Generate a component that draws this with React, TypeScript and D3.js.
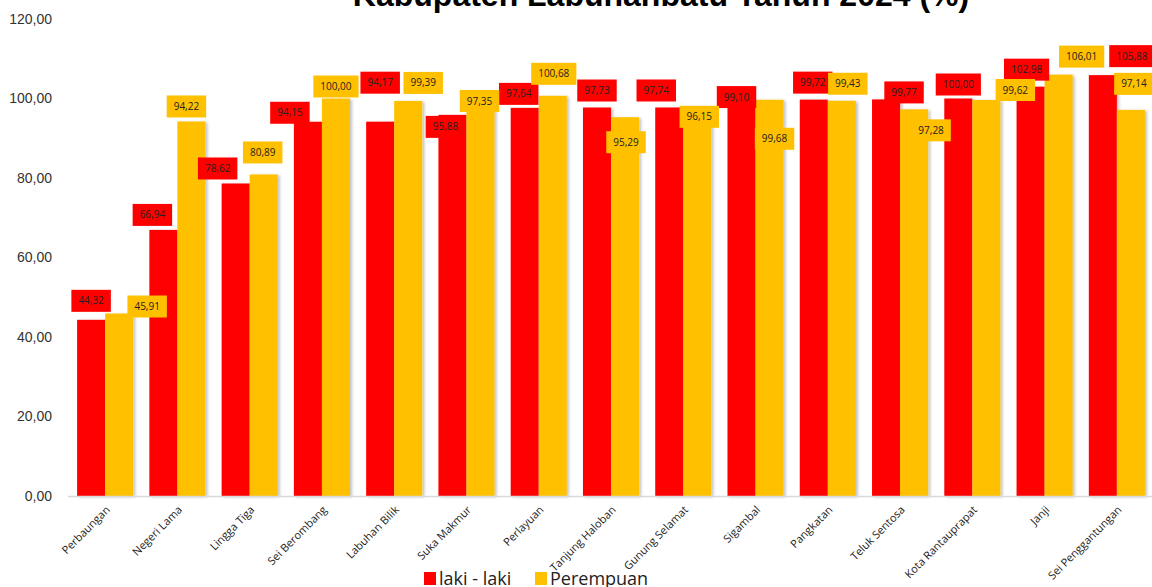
import React, { useEffect, useRef } from 'react';
import * as d3 from 'd3';

const categories = [
  'Perbaungan', 'Negeri Lama', 'Lingga Tiga', 'Sei Berombang', 'Labuhan Bilik',
  'Suka Makmur', 'Perlayuan', 'Tanjung Haloban', 'Gunung Selamat', 'Sigambal',
  'Pangkatan', 'Teluk Sentosa', 'Kota Rantauprapat', 'Janji', 'Sei Penggantungan',
];
const lakiLaki = [44.32, 66.94, 78.62, 94.15, 94.17, 95.88, 97.64, 97.73, 97.74, 99.1, 99.72, 99.77, 100.0, 102.98, 105.88];
const perempuan = [45.91, 94.22, 80.89, 100.0, 99.39, 97.35, 100.68, 95.29, 96.15, 99.68, 99.43, 97.28, 99.62, 106.01, 97.14];
const seriesNames = ['laki - laki', 'Perempuan'];
const yTicks = [0, 20, 40, 60, 80, 100, 120];
const title = 'Kabupaten Labuhanbatu Tahun 2024 (%)';

// hand-placed data label nudges (as in the source sheet), relative to bar top / centre
const lakiLabelNudge = [[0, -19], [-11, -15], [-18, -15], [-18, -9], [0, -39], [-7, 12], [-6, -14], [0, -17], [-13, -17], [-5, -5], [-1, -17], [18, -7], [0, -14], [-4, -17], [29, -19]];
const perempuanLabelNudge = [[28, -7], [-5, -15], [-1, -22], [0, -12], [15, -18], [-1, -8], [1, -22], [1, 25], [2, 3], [5, 39], [6, -17], [17, 21], [29, -10], [23, -18], [3, -26]];

const colors = ['#ff0000', '#ffc000'];
const W = 1152;
const H = 587;

export default function App() {
  const ref = useRef<SVGSVGElement>(null);

  useEffect(() => {
    const svg = d3.select(ref.current);
    svg.selectAll('*').remove();

    const x = d3.scaleBand().domain(categories).range([69, 1153]).paddingInner(0.224).paddingOuter(0.112);
    const xs = d3.scaleBand().domain(seriesNames).range([0, x.bandwidth()]);
    const y = d3.scaleLinear().domain([0, 120]).range([496, 19]);
    const fmt = (v) => d3.format('.2f')(v).replace('.', ',');

    const defs = svg.append('defs');
    defs.append('filter').attr('id', 'shadow').attr('x', '-20%').attr('y', '-5%').attr('width', '150%').attr('height', '110%')
      .append('feDropShadow').attr('dx', 2).attr('dy', 1).attr('stdDeviation', 1.5)
      .attr('flood-color', '#000').attr('flood-opacity', 0.25);

    // title (first line falls outside the frame)
    svg.append('text').attr('x', 661).attr('y', 6).attr('text-anchor', 'middle')
      .attr('font-family', 'Liberation Sans, Arial, sans-serif').attr('font-weight', 'bold')
      .attr('font-size', 32).attr('fill', '#000').text(title);

    // y axis labels
    svg.append('g').selectAll('text').data(yTicks).enter().append('text')
      .attr('x', 52).attr('y', (d) => y(d)).attr('dy', '0.35em').attr('text-anchor', 'end')
      .attr('font-family', 'Liberation Sans Narrow, Arial Narrow, sans-serif').attr('font-size', 14)
      .attr('fill', '#333').text((d) => fmt(d));

    const all = [lakiLaki, perempuan];
    all.forEach((vals, s) => {
      svg.append('g').attr('filter', 'url(#shadow)').selectAll('rect').data(vals).enter().append('rect')
        .attr('x', (d, i) => x(categories[i]) + xs(seriesNames[s]))
        .attr('y', (d) => y(d))
        .attr('width', xs.bandwidth())
        .attr('height', (d) => y(0) - y(d))
        .attr('fill', colors[s]);
    });

    // axis line
    svg.append('line').attr('x1', 68).attr('x2', 1152).attr('y1', y(0) + 0.5).attr('y2', y(0) + 0.5)
      .attr('stroke', '#d9d9d9').attr('stroke-width', 1.5);

    // data labels
    const nudges = [lakiLabelNudge, perempuanLabelNudge];
    all.forEach((vals, s) => {
      const g = svg.append('g');
      vals.forEach((v, i) => {
        const cx = x(categories[i]) + xs(seriesNames[s]) + xs.bandwidth() / 2 + nudges[s][i][0];
        const cy = y(v) + nudges[s][i][1];
        const lg = g.append('g').attr('transform', `translate(${cx},${cy})`);
        const rect = lg.append('rect').attr('fill', colors[s]);
        const t = lg.append('text').attr('text-anchor', 'middle').attr('dy', '0.35em')
          .attr('font-family', 'Open Sans, sans-serif').attr('font-size', 10)
          .attr('fill', '#222').text(fmt(v));
        const w = (t.node() as SVGTextElement).getComputedTextLength() + 14;
        rect.attr('x', -w / 2).attr('y', -11).attr('width', w).attr('height', 22);
      });
    });

    // x labels
    svg.append('g').selectAll('text').data(categories).enter().append('text')
      .attr('transform', (d) => `translate(${x(d) + x.bandwidth() / 2},${505}) rotate(-45)`)
      .attr('text-anchor', 'end').attr('dy', '0.71em')
      .attr('font-family', 'Open Sans, sans-serif').attr('font-size', 11).attr('fill', '#222')
      .text((d) => d);

    // legend
    const leg = svg.append('g').attr('transform', 'translate(424,579)');
    const items = [[0, seriesNames[0]], [111, seriesNames[1]]];
    items.forEach(([dx, name], s) => {
      leg.append('rect').attr('x', dx).attr('y', -7).attr('width', 12).attr('height', 13).attr('fill', colors[s]);
      leg.append('text').attr('x', (dx as number) + 15).attr('y', 0).attr('dy', '0.35em')
        .attr('font-family', 'Open Sans, sans-serif').attr('font-size', 18).attr('fill', '#222').text(name as string);
    });
  }, []);

  return (
    <svg ref={ref} width={W} height={H} style={{ position: 'absolute', left: 0, top: 0, background: '#fff' }} />
  );
}
